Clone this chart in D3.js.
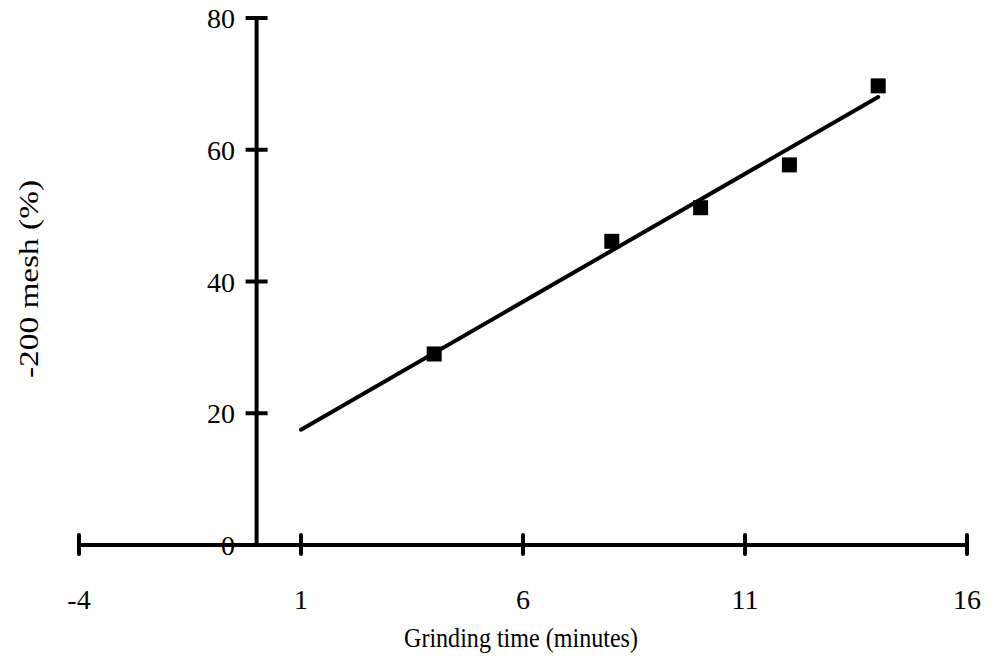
<!DOCTYPE html>
<html>
<head>
<meta charset="utf-8">
<script src="https://cdn.jsdelivr.net/npm/d3@7"></script>
<style>
body { margin: 0; background: #fff; }
text { font-family: "Liberation Serif", "Times New Roman", serif; font-size: 28px; fill: #000; }
</style>
</head>
<body>
<script>
// data
var grindTime = [4, 8, 10, 12, 14];
var meshPct = [29.0, 46.1, 51.2, 57.7, 69.7];
// fitted trend line end points
var trendX = [1, 14];
var trendY = [17.5, 68.0];
var xTicks = [-4, 1, 6, 11, 16];
var yTicks = [0, 20, 40, 60, 80];

var width = 990, height = 665;

var svg = d3.select("body").append("svg")
	.attr("width", width)
	.attr("height", height);

//scales
var x = d3.scaleLinear().domain([-4, 16]).range([79, 967]);
var y = d3.scaleLinear().domain([0, 80]).range([545, 18]);

//x axis line with crossing ticks
svg.append("line")
	.attr("x1", x(-4)).attr("x2", x(16))
	.attr("y1", y(0)).attr("y2", y(0))
	.attr("stroke", "#000").attr("stroke-width", 4);
svg.selectAll(".xtick")
	.data(xTicks)
	.enter().append("line")
	.attr("class", "xtick")
	.attr("x1", function(d){ return x(d); })
	.attr("x2", function(d){ return x(d); })
	.attr("y1", y(0) - 10).attr("y2", y(0) + 9)
	.attr("stroke", "#000").attr("stroke-width", 4).attr("stroke-linecap", "round");
svg.selectAll(".xlab")
	.data(xTicks)
	.enter().append("text")
	.attr("class", "xlab")
	.attr("x", function(d){ return x(d); })
	.attr("y", 609)
	.attr("text-anchor", "middle")
	.text(function(d){ return d; });

//y axis line
svg.append("line")
	.attr("x1", x(0)).attr("x2", x(0))
	.attr("y1", y(80)).attr("y2", y(0))
	.attr("stroke", "#000").attr("stroke-width", 4);
svg.selectAll(".ytick")
	.data(yTicks.filter(function(d){ return d > 0; }))
	.enter().append("line")
	.attr("class", "ytick")
	.attr("x1", x(0) - 11).attr("x2", x(0) + 11)
	.attr("y1", function(d){ return y(d); })
	.attr("y2", function(d){ return y(d); })
	.attr("stroke", "#000").attr("stroke-width", 4);
svg.selectAll(".ylab")
	.data(yTicks)
	.enter().append("text")
	.attr("class", "ylab")
	.attr("x", 235)
	.attr("y", function(d){ return y(d) + 10; })
	.attr("text-anchor", "end")
	.text(function(d){ return d; });

//trend line
svg.append("line")
	.attr("x1", x(trendX[0])).attr("y1", y(trendY[0]))
	.attr("x2", x(trendX[1])).attr("y2", y(trendY[1]))
	.attr("stroke", "#000").attr("stroke-width", 4).attr("stroke-linecap", "round");

//square markers
svg.selectAll(".pt")
	.data(grindTime)
	.enter().append("rect")
	.attr("class", "pt")
	.attr("x", function(d){ return x(d) - 7.5; })
	.attr("y", function(d, i){ return y(meshPct[i]) - 7.5; })
	.attr("width", 15).attr("height", 15)
	.attr("fill", "#000");

//axis titles (squeezed / stretched a bit to match the original lengths)
svg.append("text")
	.attr("x", 521).attr("y", 647)
	.attr("text-anchor", "middle")
	.attr("textLength", 234)
	.attr("lengthAdjust", "spacingAndGlyphs")
	.text("Grinding time (minutes)");
svg.append("text")
	.attr("transform", "translate(38,279) rotate(-90)")
	.attr("text-anchor", "middle")
	.attr("textLength", 198)
	.attr("lengthAdjust", "spacingAndGlyphs")
	.text("-200 mesh (%)");
</script>
</body>
</html>
